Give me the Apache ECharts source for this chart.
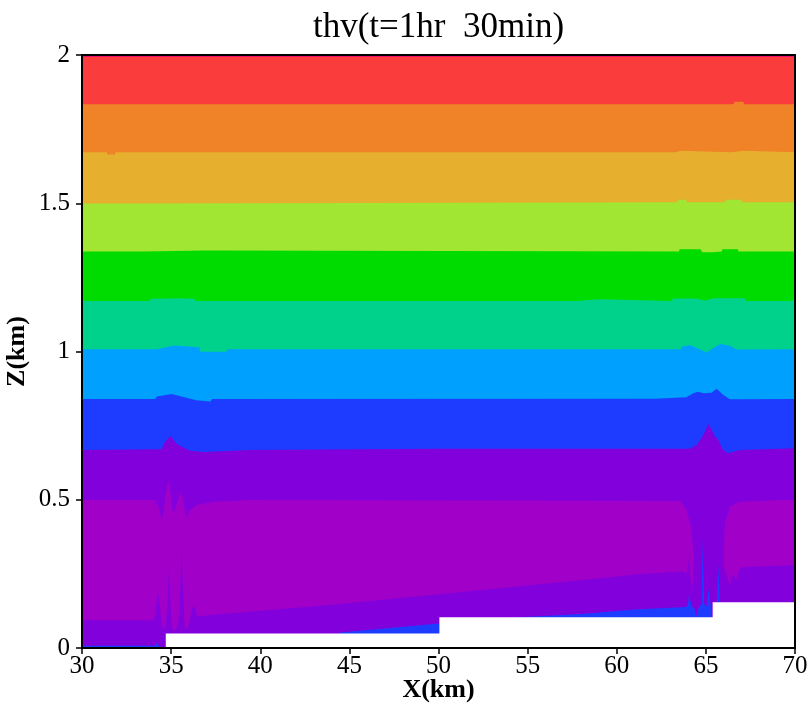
<!DOCTYPE html>
<html><head><meta charset="utf-8">
<script src="https://cdn.jsdelivr.net/npm/echarts@6/dist/echarts.min.js"></script>
<style>html,body{margin:0;padding:0;background:#fff}#c{width:810px;height:707px}</style>
</head><body><div id="c"></div>
<script>
const titleText = 'thv(t=1hr  30min)';
const xName = 'X(km)';
const yName = 'Z(km)';
const xTicks = [30, 35, 40, 45, 50, 55, 60, 65, 70];
const zTicks = [0, 0.5, 1, 1.5, 2];

// Top edge of each filled contour band, [x km, z km]
const edgePink = [[30, 2], [70, 2]];
const edgeRed = [[30, 1.994], [70, 1.994]];
const edgeOrange = [[30, 1.834], [66.55, 1.834], [66.6, 1.842], [67.1, 1.842], [67.15, 1.834], [70, 1.834]];
const edgeGold = [[30, 1.672], [31.4, 1.672], [31.42, 1.664], [31.85, 1.664], [31.87, 1.672], [63.3, 1.672], [63.32, 1.677], [63.6, 1.677], [63.62, 1.672], [66.4, 1.672], [66.42, 1.677], [67.1, 1.677], [67.12, 1.672], [70, 1.672]];
const edgeYellowGreen = [[30, 1.499], [32.8, 1.499], [32.82, 1.503], [63.4, 1.503], [63.42, 1.512], [63.9, 1.512], [63.92, 1.503], [66.1, 1.503], [66.12, 1.512], [67.0, 1.512], [67.02, 1.503], [70, 1.503]];
const edgeGreen = [[30, 1.337], [33.4, 1.337], [33.42, 1.341], [36.9, 1.341], [36.92, 1.337], [63.5, 1.337], [63.52, 1.345], [64.7, 1.345], [64.8, 1.335], [65.4, 1.335], [65.5, 1.337], [65.9, 1.337], [65.92, 1.345], [66.8, 1.345], [66.82, 1.337], [70, 1.337]];
const edgeTeal = [[30, 1.170], [33.8, 1.170], [33.85, 1.178], [35.0, 1.179], [35.3, 1.180], [36.3, 1.178], [36.35, 1.170], [57.7, 1.170], [57.72, 1.176], [59.1, 1.176], [59.12, 1.170], [63.1, 1.170], [63.15, 1.179], [64.5, 1.179], [64.9, 1.171], [65.4, 1.180], [67.2, 1.180], [67.25, 1.170], [69.75, 1.170], [69.8, 1.176], [70, 1.176]];
const edgeSky = [[30, 1.008], [34.2, 1.008], [34.25, 1.014], [35.2, 1.020], [36.6, 1.014], [36.65, 0.9995], [38.1, 0.9995], [38.15, 1.008], [63.6, 1.008], [63.64, 1.016], [64.1, 1.022], [64.67, 1.007], [65.05, 0.997], [65.4, 1.011], [65.8, 1.025], [66.35, 1.019], [66.7, 1.007], [66.8, 1.008], [70, 1.008]];
const edgeBlue = [[30, 0.840], [34.1, 0.840], [34.2, 0.848], [35.03, 0.857], [36.4, 0.836], [36.45, 0.831], [37.2, 0.831], [37.3, 0.840], [62.15, 0.841], [63.9, 0.846], [64.3, 0.859], [64.57, 0.864], [64.86, 0.859], [65.32, 0.861], [65.6, 0.874], [65.98, 0.853], [66.35, 0.839], [70, 0.840]];
const edgeViolet = [[30, 0.668], [34.47, 0.670], [34.6, 0.690], [34.94, 0.715], [35.3, 0.690], [35.6, 0.679], [36.06, 0.665], [36.8, 0.661], [39.4, 0.668], [50, 0.672], [64.1, 0.672], [64.49, 0.685], [64.86, 0.718], [65.14, 0.755], [65.33, 0.735], [65.5, 0.713], [65.7, 0.702], [65.9, 0.6735], [66.2, 0.657], [66.55, 0.662], [66.9, 0.668], [70, 0.6735]];
const edgeMagenta = [[30, 0.499], [34.1, 0.499], [34.19, 0.488], [34.36, 0.465], [34.47, 0.426], [34.58, 0.46], [34.7, 0.52], [34.84, 0.567], [34.97, 0.52], [35.07, 0.465], [35.12, 0.455], [35.22, 0.47], [35.45, 0.51], [35.55, 0.527], [35.66, 0.5], [35.8, 0.455], [35.9, 0.443], [36.06, 0.465], [36.43, 0.482], [37.35, 0.493], [39.4, 0.499], [63.55, 0.496], [63.92, 0.465], [64.2, 0.398], [64.3, 0.31], [64.35, 0], [65.95, 0], [65.98, 0.3], [66.07, 0.42], [66.35, 0.477], [66.9, 0.493], [69.2, 0.499], [70, 0.499]];
const edgeLowViolet = [[30, 0.094], [34.0, 0.094], [34.1, 0.11], [34.2, 0.16], [34.28, 0.184], [34.36, 0.15], [34.45, 0.09], [34.56, 0.061], [34.7, 0.075], [34.8, 0.16], [34.86, 0.263], [34.9, 0.263], [34.96, 0.15], [35.05, 0.07], [35.2, 0.055], [35.4, 0.08], [35.52, 0.2], [35.57, 0.325], [35.61, 0.325], [35.67, 0.2], [35.75, 0.075], [35.87, 0.061], [36.05, 0.09], [36.15, 0.13], [36.25, 0.145], [36.35, 0.13], [36.5, 0.106], [37.35, 0.112], [43.9, 0.145], [58.1, 0.229], [61.3, 0.25], [63.7, 0.258], [63.9, 0.25], [64.0, 0.28], [64.05, 0.302], [64.12, 0.25], [64.2, 0.207], [64.3, 0.22], [64.35, 0.52], [65.96, 0.52], [66.0, 0.274], [66.1, 0.26], [66.25, 0.23], [66.35, 0.207], [66.5, 0.25], [66.6, 0.24], [66.7, 0.229], [66.85, 0.26], [67.0, 0.272], [70, 0.28]];
const edgeLowBlue = [[30, 0.008], [34.1, 0.008], [34.2, 0.017], [34.3, 0.017], [34.4, 0], [44.4, 0], [44.47, 0.052], [50.05, 0.083], [50.06, 0], [54.5, 0], [54.57, 0.1035], [58, 0.115], [61, 0.13], [63.9, 0.138], [64.0, 0.15], [64.05, 0.179], [64.12, 0.179], [64.2, 0.14], [64.35, 0.135], [64.45, 0.106], [64.6, 0.135], [64.76, 0.15], [64.82, 0.364], [64.84, 0.364], [64.9, 0.15], [65.05, 0.14], [65.15, 0.201], [65.21, 0.201], [65.28, 0.14], [65.36, 0.134], [65.37, 0], [65.6, 0], [65.65, 0.2], [65.69, 0.28], [65.72, 0.28], [65.76, 0.2], [65.8, 0], [66.28, 0], [66.32, 0.173], [66.4, 0.173], [66.45, 0], [66.82, 0], [66.86, 0.162], [66.92, 0.162], [66.97, 0], [70, 0]];
const terrain = [[30, 0], [34.7, 0], [34.7, 0.049], [50.05, 0.049], [50.05, 0.1035], [65.38, 0.1035], [65.38, 0.154], [70, 0.154]];

const layers = [
  ['pink', edgePink, '#F00082'],
  ['red', edgeRed, '#FA3C3C'],
  ['orange', edgeOrange, '#F08228'],
  ['gold', edgeGold, '#E6AF2D'],
  ['yellowgreen', edgeYellowGreen, '#A0E632'],
  ['green', edgeGreen, '#00DC00'],
  ['teal', edgeTeal, '#00D28C'],
  ['sky', edgeSky, '#00A0FF'],
  ['blue', edgeBlue, '#1E3CFF'],
  ['violet', edgeViolet, '#8200DC'],
  ['magenta', edgeMagenta, '#A000C8'],
  ['lowViolet', edgeLowViolet, '#8200DC'],
  ['lowBlue', edgeLowBlue, '#1E3CFF'],
  ['terrain', terrain, '#FFFFFF']
];

const series = layers.map(([name, data, color]) => ({
  name, type: 'line', data, xAxisIndex: 0, yAxisIndex: 0,
  symbol: 'none', showSymbol: false, smooth: false, silent: true,
  lineStyle: { width: 0 },
  areaStyle: { color, opacity: 1, origin: 'start' },
  animation: false
}));

const font = 'Liberation Serif, Times New Roman, serif';
const chart = echarts.init(document.getElementById('c'), null, { renderer: 'canvas' });
chart.setOption({
  animation: false,
  backgroundColor: '#ffffff',
  grid: { left: 82, right: 15, top: 55, bottom: 59, containLabel: false, outerBoundsMode: 'none' },
  graphic: [{
    type: 'text', x: 438.5, y: 28, z: 100,
    style: { text: titleText, font: '35px ' + font, fill: '#000', textAlign: 'center', textVerticalAlign: 'middle' }
  }],
  xAxis: [{
    type: 'value', min: xTicks[0], max: xTicks[xTicks.length - 1], interval: 5, z: 10,
    position: 'bottom',
    name: xName, nameLocation: 'middle', nameGap: 29, nameMoveOverlap: false,
    nameTextStyle: { fontFamily: font, fontSize: 26, fontWeight: 'bold', color: '#000' },
    axisLine: { show: true, onZero: false, lineStyle: { color: '#000', width: 2 } },
    axisTick: { show: true, inside: false, length: 6, lineStyle: { color: '#000', width: 1.5 } },
    axisLabel: { fontFamily: font, fontSize: 25, color: '#000', margin: 6 },
    splitLine: { show: false }
  }, {
    type: 'value', min: xTicks[0], max: xTicks[xTicks.length - 1], interval: 5, z: 10,
    position: 'top',
    axisLine: { show: true, onZero: false, lineStyle: { color: '#000', width: 2 } },
    axisTick: { show: false }, axisLabel: { show: false }, splitLine: { show: false }
  }],
  yAxis: [{
    type: 'value', min: zTicks[0], max: zTicks[zTicks.length - 1], interval: 0.5, z: 10,
    position: 'left',
    name: yName, nameLocation: 'middle', nameGap: 52, nameRotate: 90, nameMoveOverlap: false,
    nameTextStyle: { fontFamily: font, fontSize: 26, fontWeight: 'bold', color: '#000' },
    axisLine: { show: true, onZero: false, lineStyle: { color: '#000', width: 2 } },
    axisTick: { show: true, inside: false, length: 6, lineStyle: { color: '#000', width: 1.5 } },
    axisLabel: { fontFamily: font, fontSize: 25, color: '#000', margin: 12 },
    splitLine: { show: false }
  }, {
    type: 'value', min: zTicks[0], max: zTicks[zTicks.length - 1], interval: 0.5, z: 10,
    position: 'right',
    axisLine: { show: true, onZero: false, lineStyle: { color: '#000', width: 2 } },
    axisTick: { show: false }, axisLabel: { show: false }, splitLine: { show: false }
  }],
  series
});
</script></body></html>
